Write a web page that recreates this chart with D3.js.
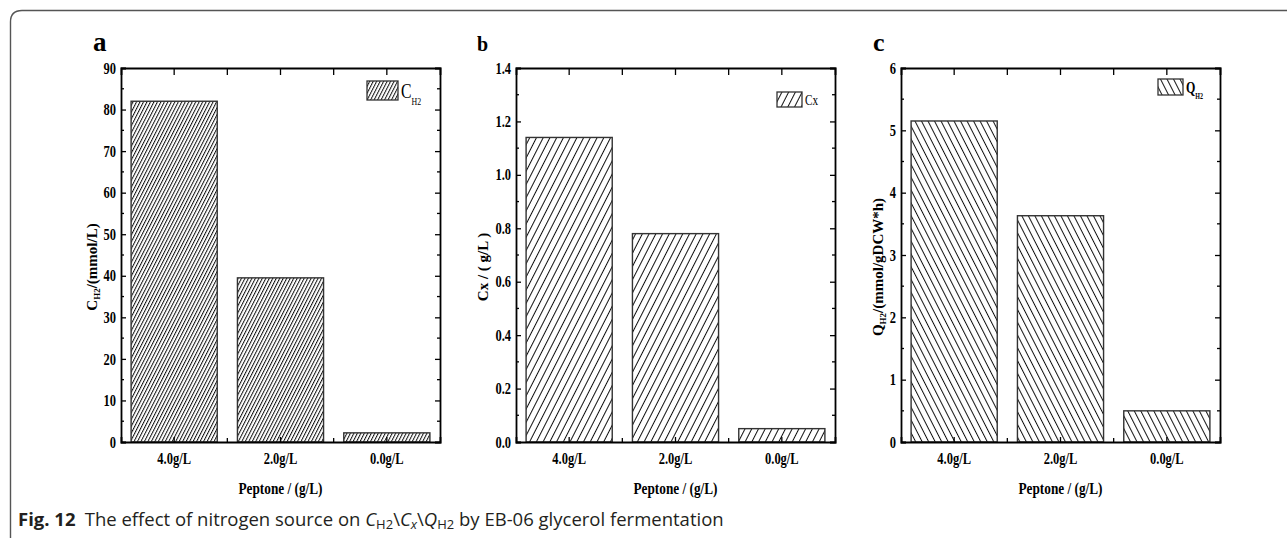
<!DOCTYPE html>
<html>
<head>
<meta charset="utf-8">
<script src="https://cdn.jsdelivr.net/npm/d3@7"></script>
<style>
  body { margin: 0; background: #fff; }
  svg { display: block; }
</style>
</head>
<body>
<svg id="fig" width="1287" height="538"></svg>
<script>
// data
const categories = ["4.0g/L", "2.0g/L", "0.0g/L"];
const hydrogenConc = [82, 39.5, 2.2];      // C_H2 (mmol/L)
const biomassConc = [1.14, 0.78, 0.05];     // Cx (g/L)
const hydrogenRate = [5.15, 3.63, 0.5];     // Q_H2 (mmol/gDCW*h)

const svg = d3.select("#fig");
const serif = "'Liberation Serif', 'Times New Roman', serif";
const squeeze = 0.78;

// squeeze plain text horizontally, like the original figure
function condense(sel, f) {
    sel.each(function () {
        const w = this.getComputedTextLength();
        d3.select(this).attr("textLength", w * (f || squeeze)).attr("lengthAdjust", "spacingAndGlyphs");
    });
}

// hatch patterns
const defs = svg.append("defs");
function hatch(id, gap, angle) {
    const p = defs.append("pattern")
        .attr("id", id)
        .attr("patternUnits", "userSpaceOnUse")
        .attr("width", gap)
        .attr("height", 20)
        .attr("patternTransform", `rotate(${angle})`);
    p.append("rect").attr("width", gap).attr("height", 20).attr("fill", "#fff");
    p.append("line")
        .attr("x1", 0.5).attr("y1", 0).attr("x2", 0.5).attr("y2", 20)
        .attr("stroke", "#111").attr("stroke-width", 1);
}
hatch("hatchA", 3.1, 27);
hatch("hatchB", 6, 27);
hatch("hatchC", 5.8, -27);

const plotTop = 68, plotBottom = 442, plotW = 319;

const panels = [
    { label: "a", labelX: 93, labelSize: 27, left: 121, values: hydrogenConc, yMax: 90, major: 10, fmt: d3.format("d"),
      fill: "url(#hatchA)", titleX: 97, title: [["C", 0], ["H2", 1], ["/(mmol/L)", 0]],
      legend: { x: 367, y: 81, w: 31, h: 19, parts: [["C", 0], ["H2", 1]], size: 21, bold: false } },
    { label: "b", labelX: 477, labelSize: 20, left: 516, values: biomassConc, yMax: 1.4, major: 0.2, fmt: d3.format(".1f"),
      fill: "url(#hatchB)", titleX: 488, title: [["Cx / ( g/L )", 0]],
      legend: { x: 777, y: 92, w: 25, h: 15, parts: [["Cx", 0]], size: 15, bold: false } },
    { label: "c", labelX: 873, labelSize: 26, left: 901, values: hydrogenRate, yMax: 6, major: 1, fmt: d3.format("d"),
      fill: "url(#hatchC)", titleX: 883, title: [["Q", 0], ["H2", 1], ["/(mmol/gDCW*h)", 0]],
      legend: { x: 1158, y: 79, w: 25, h: 16, parts: [["Q", 0], ["H2", 1]], size: 16, bold: true } }
];

panels.forEach(p => {
    const g = svg.append("g");
    const x = d3.scaleBand()
        .domain(categories)
        .range([p.left, p.left + plotW])
        .paddingInner(0.19)
        .paddingOuter(0.095);
    const y = d3.scaleLinear().domain([0, p.yMax]).range([plotBottom, plotTop]);

    const majors = d3.range(0, p.yMax + p.major / 2, p.major);
    const minors = majors.slice(0, -1).map(v => v + p.major / 2);
    const between = categories.slice(1).map(c => x(c) - (x.step() - x.bandwidth()) / 2);

    // bars
    g.selectAll("rect.bar")
        .data(p.values)
        .join("rect")
        .attr("class", "bar")
        .attr("x", (d, i) => x(categories[i]))
        .attr("y", d => y(d))
        .attr("width", x.bandwidth())
        .attr("height", d => y(0) - y(d))
        .attr("fill", p.fill)
        .attr("stroke", "#333")
        .attr("stroke-width", 1.4);

    // left axis with inward ticks
    const yAxis = g.append("g")
        .attr("transform", `translate(${p.left},0)`)
        .call(d3.axisLeft(y).tickValues(majors).tickFormat(p.fmt).tickSize(-5).tickPadding(5));
    yAxis.append("g").selectAll("line")
        .data(minors).join("line")
        .attr("x1", 0).attr("x2", 3)
        .attr("y1", d => y(d)).attr("y2", d => y(d))
        .attr("stroke", "#000");
    yAxis.selectAll("text")
        .attr("font-family", serif).attr("font-weight", "bold").attr("font-size", 16).attr("fill", "#000");
    condense(yAxis.selectAll(".tick text"));

    // right axis
    const yRight = g.append("g")
        .attr("transform", `translate(${p.left + plotW},0)`)
        .call(d3.axisRight(y).tickValues(majors).tickFormat("").tickSize(-5));
    yRight.append("g").selectAll("line")
        .data(minors).join("line")
        .attr("x1", 0).attr("x2", -3)
        .attr("y1", d => y(d)).attr("y2", d => y(d))
        .attr("stroke", "#000");

    // bottom axis
    const xAxis = g.append("g")
        .attr("transform", `translate(0,${plotBottom})`)
        .call(d3.axisBottom(x).tickSize(-5).tickPadding(11));
    xAxis.append("g").selectAll("line")
        .data(between).join("line")
        .attr("x1", d => d).attr("x2", d => d)
        .attr("y1", 0).attr("y2", -4)
        .attr("stroke", "#000");
    xAxis.selectAll(".tick text")
        .attr("font-family", serif).attr("font-weight", "bold").attr("font-size", 16).attr("fill", "#000");
    condense(xAxis.selectAll(".tick text"));

    // top axis
    const xTop = g.append("g")
        .attr("transform", `translate(0,${plotTop})`)
        .call(d3.axisTop(x).tickSize(-7).tickFormat(""));
    xTop.append("g").selectAll("line")
        .data(between).join("line")
        .attr("x1", d => d).attr("x2", d => d)
        .attr("y1", 0).attr("y2", 7)
        .attr("stroke", "#000");

    [yAxis, yRight, xAxis, xTop].forEach(a => {
        a.select(".domain").attr("stroke", "#000").attr("stroke-width", 1.8);
        a.selectAll("line").attr("stroke-width", 1.3);
    });

    // x title
    const xt = g.append("text")
        .attr("x", p.left + plotW / 2)
        .attr("y", 494)
        .attr("text-anchor", "middle")
        .attr("font-family", serif).attr("font-weight", "bold").attr("font-size", 17)
        .text("Peptone / (g/L)");
    condense(xt);

    // y title
    const yt = g.append("text")
        .attr("transform", `translate(${p.titleX},267) rotate(-90)`)
        .attr("text-anchor", "middle")
        .attr("font-family", serif).attr("font-weight", "bold").attr("font-size", 15);
    p.title.forEach(([t, sub], i) => {
        yt.append("tspan")
            .attr("font-size", sub ? 9 : 15)
            .attr("dy", sub ? 3 : (i === 0 ? 0 : -3))
            .text(t);
    });

    // panel letter
    g.append("text")
        .attr("x", p.labelX).attr("y", 51)
        .attr("font-family", serif).attr("font-weight", "bold").attr("font-size", p.labelSize)
        .text(p.label);

    // legend
    const L = p.legend;
    g.append("rect")
        .attr("x", L.x).attr("y", L.y).attr("width", L.w).attr("height", L.h)
        .attr("fill", p.fill).attr("stroke", "#333").attr("stroke-width", 1.3);
    const lx = L.x + L.w + 3;
    const lt = g.append("text")
        .attr("x", lx).attr("y", L.y + L.h - 2)
        .attr("font-family", serif).attr("font-weight", L.bold ? "bold" : "normal")
        .attr("transform", `translate(${lx},0) scale(0.75,1) translate(${-lx},0)`);
    L.parts.forEach(([t, sub]) => {
        lt.append("tspan")
            .attr("font-size", sub ? L.size * 0.5 : L.size)
            .attr("dy", sub ? L.size * 0.35 : 0)
            .text(t);
    });
});

// page frame with rounded corner
svg.append("path")
    .attr("d", "M10.5,538 V22 Q10.5,10.5 22,10.5 H1287")
    .attr("fill", "none").attr("stroke", "#555").attr("stroke-width", 1.4);

// caption
const cap = svg.append("text")
    .attr("x", 18).attr("y", 526)
    .attr("font-family", "'Open Sans', 'Noto Sans', sans-serif").attr("font-size", 18.5).attr("fill", "#231f20");
cap.append("tspan").attr("font-weight", "bold").text("Fig. 12");
cap.append("tspan").text("\u2002The effect of nitrogen source on ");
cap.append("tspan").attr("font-style", "italic").text("C");
cap.append("tspan").attr("font-size", 13).attr("dy", 3).text("H2");
cap.append("tspan").attr("dy", -3).text("\\");
cap.append("tspan").attr("font-style", "italic").text("C");
cap.append("tspan").attr("font-style", "italic").attr("font-size", 13).attr("dy", 3).text("x");
cap.append("tspan").attr("dy", -3).text("\\");
cap.append("tspan").attr("font-style", "italic").text("Q");
cap.append("tspan").attr("font-size", 13).attr("dy", 3).text("H2");
cap.append("tspan").attr("dy", -3).text(" by EB-06 glycerol fermentation");
</script>
</body>
</html>
